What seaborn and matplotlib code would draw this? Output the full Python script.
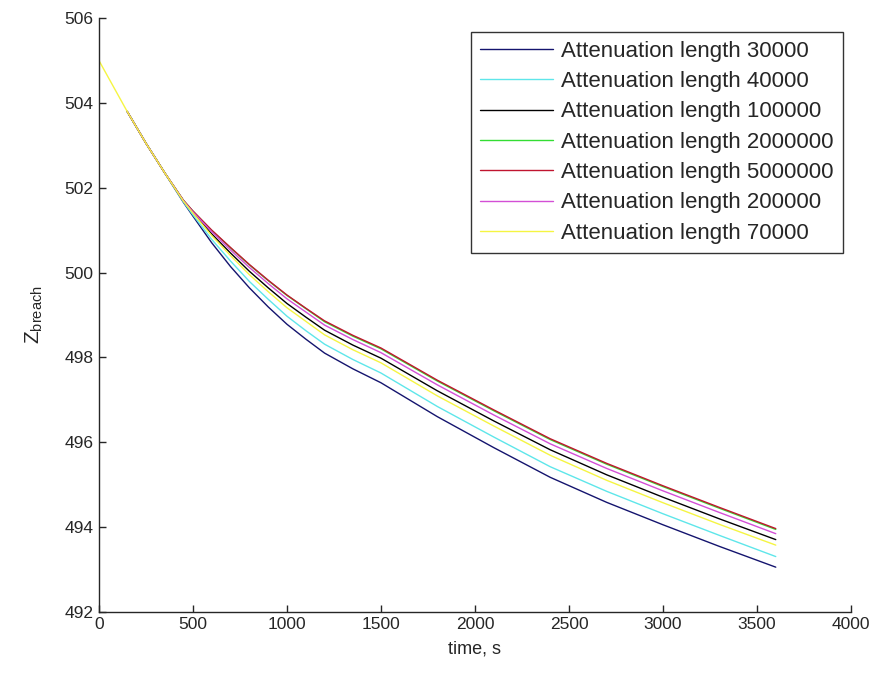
import numpy as np
import pandas as pd
import matplotlib
matplotlib.use("Agg")
import matplotlib.pyplot as plt
import seaborn as sns

# tiempos (s)
t_comun = [150, 250, 350, 450, 500, 600, 700, 800, 900, 1000, 1100, 1200, 1350, 1500,
           1800, 2100, 2400, 2700, 3000, 3300, 3600]
t_amarillo = [0, 50, 100] + t_comun

# tramo inicial comun a todas las curvas
inicio = [503.8, 503.05, 502.35]

z_30000 = inicio + [501.65, 501.33, 500.70, 500.14, 499.64, 499.19, 498.78, 498.43, 498.10, 497.73,
                    497.40, 496.60, 495.87, 495.17, 494.58, 494.05, 493.54, 493.05]
z_40000 = inicio + [501.66, 501.36, 500.78, 500.27, 499.79, 499.37, 498.97, 498.63, 498.31, 497.95,
                    497.63, 496.84, 496.12, 495.42, 494.84, 494.31, 493.80, 493.30]
z_100000 = inicio + [501.69, 501.42, 500.91, 500.46, 500.03, 499.64, 499.27, 498.95, 498.64, 498.29,
                     497.98, 497.21, 496.50, 495.82, 495.23, 494.70, 494.19, 493.70]
z_2000000 = inicio + [501.70, 501.45, 500.99, 500.58, 500.18, 499.81, 499.46, 499.15, 498.84, 498.50,
                      498.20, 497.44, 496.74, 496.06, 495.48, 494.95, 494.44, 493.94]
z_5000000 = inicio + [501.70, 501.45, 501.00, 500.59, 500.19, 499.82, 499.47, 499.16, 498.86, 498.52,
                      498.22, 497.46, 496.76, 496.08, 495.50, 494.97, 494.46, 493.96]
z_200000 = inicio + [501.69, 501.43, 500.96, 500.53, 500.12, 499.74, 499.38, 499.07, 498.76, 498.42,
                     498.11, 497.35, 496.64, 495.96, 495.38, 494.85, 494.34, 493.84]
z_70000 = [505.0, 504.6, 504.2] + inicio + [501.68, 501.40, 500.87, 500.40, 499.95, 499.55, 499.17,
                                            498.85, 498.53, 498.18, 497.87, 497.09, 496.38, 495.69,
                                            495.10, 494.57, 494.06, 493.57]

etiquetas = ['Attenuation length 30000', 'Attenuation length 40000', 'Attenuation length 100000',
             'Attenuation length 2000000', 'Attenuation length 5000000', 'Attenuation length 200000',
             'Attenuation length 70000']
colores = ['#14146e', '#5ee6ea', '#000000', '#33dd33', '#c0152f', '#d34fd6', '#f5f542']

series = [(t_comun, z_30000), (t_comun, z_40000), (t_comun, z_100000), (t_comun, z_2000000),
          (t_comun, z_5000000), (t_comun, z_200000), (t_amarillo, z_70000)]

filas = []
for nombre, (tt, zz) in zip(etiquetas, series):
    for a, b in zip(tt, zz):
        filas.append({'t': a, 'z': b, 'serie': nombre})
df = pd.DataFrame(filas)

sns.set_style("ticks")
plt.rcParams['font.family'] = ['Liberation Sans', 'DejaVu Sans']

fig = plt.figure(figsize=(8.79, 6.77), dpi=100)
ax = fig.add_axes([0.1126, 0.0965, 0.8555, 0.8766])

sns.lineplot(data=df, x='t', y='z', hue='serie', hue_order=etiquetas,
             palette=dict(zip(etiquetas, colores)), estimator=None, sort=False,
             linewidth=1.0, ax=ax)

ax.set_xlim(0, 4000)
ax.set_ylim(492, 506)
ax.set_xticks(np.arange(0, 4001, 500))
ax.set_yticks(np.arange(492, 507, 2))
ax.tick_params(direction='in', length=5, width=1, labelsize=12.5, pad=4)
for s in ['top', 'right']:
    ax.spines[s].set_visible(False)
for s in ['left', 'bottom']:
    ax.spines[s].set_linewidth(1.0)

ax.set_xlabel('time, s', fontsize=13, labelpad=6)
ax.set_ylabel('$\\mathregular{Z_{breach}}$', fontsize=15, labelpad=14)

leg = ax.legend(loc='upper right', bbox_to_anchor=(0.989, 0.977), borderaxespad=0,
                fontsize=16, frameon=True, fancybox=False, edgecolor='black',
                handlelength=3.3, handletextpad=0.36, labelspacing=0.42, borderpad=0.4)
leg.get_frame().set_linewidth(1.0)

fig.savefig('out.png', dpi=100)
